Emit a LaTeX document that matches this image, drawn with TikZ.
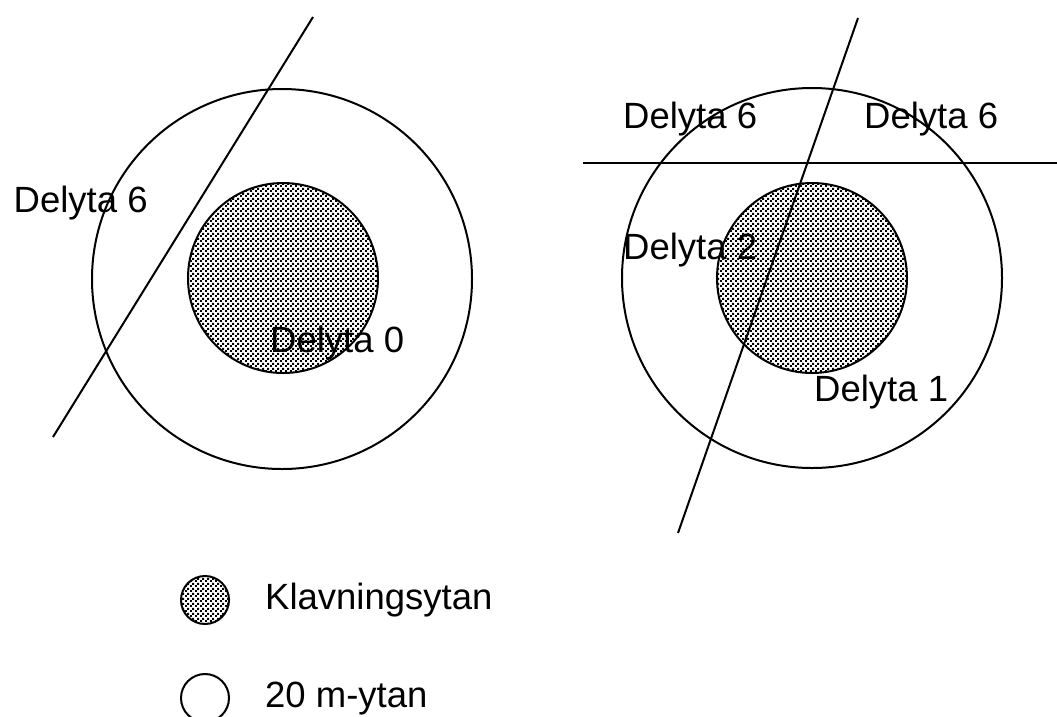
\documentclass[tikz,border=0pt]{standalone}
\usepackage{fontspec}
\setmainfont{Liberation Sans}
\usetikzlibrary{patterns}
\pgfdeclarepatternformonly{klavdots}{\pgfqpoint{0pt}{0pt}}{\pgfqpoint{5pt}{5pt}}{\pgfqpoint{5pt}{5pt}}{%
  \pgfpathrectangle{\pgfqpoint{0.1pt}{0.1pt}}{\pgfqpoint{2.2pt}{2.2pt}}%
  \pgfpathrectangle{\pgfqpoint{2.6pt}{2.6pt}}{\pgfqpoint{2.2pt}{2.2pt}}%
  \pgfusepath{fill}}
\begin{document}
\begin{tikzpicture}[x=1pt,y=-1pt,
  ring/.style={draw=black, line width=2pt, fill=none},
  klav/.style={draw=black, line width=2pt, pattern=klavdots, pattern color=black},
  cut/.style={draw=black, line width=2pt},
  lbl/.style={anchor=base west, inner sep=0pt, font=\fontsize{36.5}{40}\selectfont}]
\useasboundingbox[fill=white] (0,0) rectangle (1057,716);
% left figure
\draw[ring] (282,279) circle[radius=190];
\draw[klav] (283,278) circle[radius=95];
\coordinate (la) at (313,17);
\coordinate (lb) at (53,437);
\draw[cut] (la) -- (lb);
\node[lbl] (l6) at (13.5,212) {Delyta 6};
\node[lbl] (l0) at (270,352) {Delyta 0};
% right figure
\draw[ring] (812,278) circle[radius=190];
\draw[klav] (812,278) circle[radius=95];
\coordinate (ra) at (858,18);
\coordinate (rb) at (678,533);
\coordinate (ha) at (583,163);
\coordinate (hb) at (1057,163);
\draw[cut] (ra) -- (rb);
\draw[cut] (ha) -- (hb);
\node[lbl] (r6a) at (623,128) {Delyta 6};
\node[lbl] (r6b) at (864,128) {Delyta 6};
\node[lbl] (r2) at (623,259) {Delyta 2};
\node[lbl] (r1) at (814,401) {Delyta 1};
% legend
\draw[klav] (205,600) circle[radius=24];
\draw[ring] (205,698) circle[radius=24];
\node[lbl] (k) at (265,609) {Klavningsytan};
\node[lbl] (m) at (265,707) {20 m-ytan};
\end{tikzpicture}
\end{document}
